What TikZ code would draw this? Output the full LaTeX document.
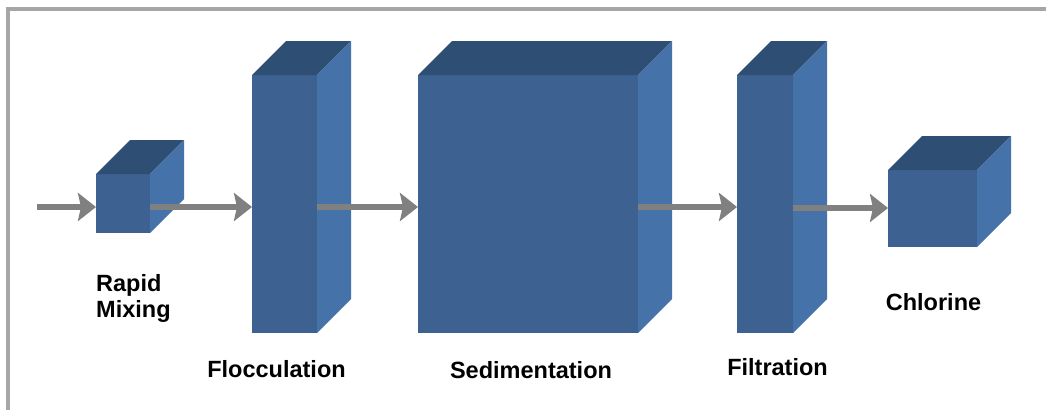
\documentclass[tikz,border=0pt]{standalone}
\usepackage{fontspec}
\setmainfont{Liberation Sans}
\usetikzlibrary{arrows.meta,calc}

\definecolor{faceFront}{RGB}{61,97,145}
\definecolor{faceTop}{RGB}{47,78,115}
\definecolor{faceSide}{RGB}{69,114,168}
\definecolor{flowGray}{RGB}{128,128,128}
\definecolor{frameGray}{RGB}{166,166,166}

\tikzset{
  front/.style={fill=faceFront, draw=none, inner sep=0pt, outer sep=0pt, anchor=north west},
  flow/.style={draw=flowGray, line width=5.5pt, -{Stealth[length=18pt,width=28pt,inset=3pt]}},
  lbl/.style={font=\bfseries\fontsize{23.5}{26}\selectfont, inner sep=0pt, text=black},
  frame/.style={draw=frameGray, line width=3.7pt, line join=miter},
}

% a tank drawn as a box: front face node, then top and side faces behind it
% #1 name, #2 x, #3 y (top-left of the front face), #4 width, #5 height
\newcommand\tankbox[5]{%
  \node[front, minimum width=#4pt, minimum height=#5pt] (#1) at (#2,#3) {};
  \fill[faceTop] (#1.north west) -- ++(34,-34) -- ($(#1.north east)+(34,-34)$)
      -- (#1.north east) -- cycle;
  \fill[faceSide] (#1.north east) -- ++(34,-34) -- ($(#1.south east)+(34,-34)$)
      -- (#1.south east) -- cycle;
}

\begin{document}
\begin{tikzpicture}[x=1pt, y=-1pt]
  \fill[white, use as bounding box] (0,0) rectangle (1046,410);

  % outer frame (top and left edges)
  \draw[frame] (8,410) -- (8,9) -- (1046,9);

  % treatment units
  \tankbox{mix}{96}{174}{54}{59}
  \tankbox{floc}{252}{75}{65}{258}
  \tankbox{sed}{418}{75}{220}{258}
  \tankbox{filt}{737}{75}{56}{258}
  \tankbox{chl}{888}{170}{89}{77}

  % flow level and inlet
  \coordinate (lvl) at (0,207);
  \coordinate (lvlb) at (0,208);
  \coordinate (inlet) at (37,207);

  \draw[flow] (inlet) -- (mix.west |- lvl);
  \draw[flow] (mix.east |- lvl) -- (floc.west |- lvl);
  \draw[flow] (floc.east |- lvl) -- (sed.west |- lvl);
  \draw[flow] (sed.east |- lvl) -- (filt.west |- lvl);
  \draw[flow] (filt.east |- lvlb) -- (chl.west |- lvlb);

  % labels
  \node[lbl, align=left, anchor=north west] (tmix) at (96,274) {Rapid\\Mixing};
  \node[lbl, anchor=base] (tfloc) at (276.5,377.7) {Flocculation};
  \node[lbl, anchor=base] (tsed) at (531,378) {Sedimentation};
  \node[lbl, anchor=base] (tfilt) at (777.5,375.7) {Filtration};
  \node[lbl, anchor=base] (tchl) at (933.5,310) {Chlorine};
\end{tikzpicture}
\end{document}
